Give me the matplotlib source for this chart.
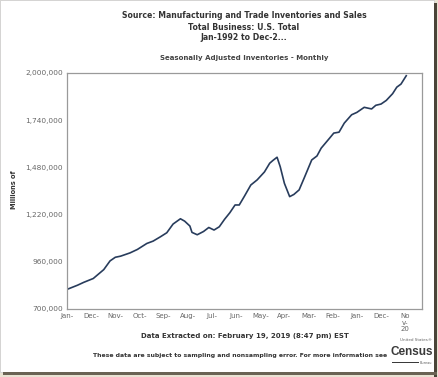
"""
Census chart: seasonally adjusted total business inventories, monthly.
"""
import matplotlib
matplotlib.use('Agg')
import matplotlib.pyplot as plt
from matplotlib.patches import Rectangle


# values (millions of dollars)
months = [
    '1992-01', '1992-11', '1993-05', '1994-02', '1994-12', '1995-06', '1995-11',
    '1996-04', '1997-01', '1997-08', '1998-05', '1998-11', '1999-06', '1999-12',
    '2000-06', '2001-01', '2001-05', '2001-10', '2001-12', '2002-05', '2002-11',
    '2003-04', '2003-09', '2004-02', '2004-07', '2004-12', '2005-05', '2005-09',
    '2006-02', '2006-08', '2007-02', '2007-09', '2008-02', '2008-05', '2008-09',
    '2008-12', '2009-04', '2009-09', '2010-01', '2010-06', '2010-11', '2011-06',
    '2011-11', '2012-03', '2012-11', '2013-03', '2013-08', '2014-01', '2014-08',
    '2015-01', '2015-08', '2016-03', '2016-07', '2016-12', '2017-05', '2017-11',
    '2018-03', '2018-07', '2018-12',
]
inventories = [
    808, 831, 847, 868, 917, 965, 985,
    991, 1009, 1028, 1061, 1074, 1098, 1120,
    1168, 1197, 1184, 1157, 1122, 1109, 1127,
    1149, 1135, 1153, 1194, 1230, 1273, 1273,
    1322, 1383, 1411, 1455, 1503, 1518, 1536,
    1484, 1392, 1319, 1331, 1356, 1424, 1521,
    1543, 1586, 1641, 1669, 1674, 1724, 1770,
    1783, 1811, 1802, 1822, 1829, 1849, 1886,
    1922, 1939, 1985,
]
inventories = [v * 1000 for v in inventories]

x_labels = ['Jan-', 'Dec-', 'Nov-', 'Oct-', 'Sep-', 'Aug-', 'Jul-', 'Jun-',
            'May-', 'Apr-', 'Mar-', 'Feb-', 'Jan-', 'Dec-', 'No\nv-\n20']
y_ticks = [700000, 960000, 1220000, 1480000, 1740000, 2000000]


def month_index(m):
    year, mon = m.split('-')
    return (int(year) - 1992) * 12 + int(mon) - 1


def plot_inventories():
    text_color = '#333333'
    tick_color = '#666666'
    W, H = 439, 377

    fig = plt.figure(figsize=(4.39, 3.77), dpi=100)
    fig.patch.set_facecolor('#e9e3d3')
    # white page of the screenshot
    fig.add_artist(Rectangle((0, 5 / H), 434 / W, 1 - 5 / H, transform=fig.transFigure,
                             facecolor='white', edgecolor='#cfcfcf', linewidth=0.6,
                             zorder=-10))
    # dark shadow on the right and at the bottom
    fig.add_artist(Rectangle((434 / W, 0), 3 / W, 1 - 3 / H, transform=fig.transFigure,
                             facecolor='#4a4438', edgecolor='none', zorder=-10))
    fig.add_artist(Rectangle((3 / W, 2 / H), 434 / W, 3 / H, transform=fig.transFigure,
                             facecolor='#6a6354', edgecolor='none', zorder=-10))

    ax = fig.add_axes([67 / W, 1 - 309 / H, 355 / W, 236 / H])

    x = [month_index(m) for m in months]
    ax.plot(x, inventories, color='#283c5c', linewidth=1.2)

    ax.set_xlim(0, 338)
    ax.set_ylim(700000, 2000000)
    ax.set_xticks([i * 23 for i in range(len(x_labels))])
    ax.set_xticklabels(x_labels, fontsize=5, color=tick_color, va='top',
                       linespacing=1.1)
    ax.set_yticks(y_ticks)
    ax.set_yticklabels([f'{v:,}' for v in y_ticks], fontsize=5.3, color=tick_color)
    ax.tick_params(length=0, pad=3)
    for spine in ax.spines.values():
        spine.set_color('#9a9a9a')
        spine.set_linewidth(0.9)

    # titles
    title_kw = dict(ha='center', va='center', fontsize=5.6, fontweight='bold',
                    color=text_color)
    fig.text(244 / W, 1 - 16 / H, 'Source: Manufacturing and Trade Inventories and Sales', **title_kw)
    fig.text(244 / W, 1 - 27 / H, 'Total Business: U.S. Total', **title_kw)
    fig.text(244 / W, 1 - 38 / H, 'Jan-1992 to Dec-2...', **title_kw)
    fig.text(244 / W, 1 - 58 / H, 'Seasonally Adjusted Inventories - Monthly',
             ha='center', va='center', fontsize=5, fontweight='bold', color='#444444')

    fig.text(14 / W, 1 - 190 / H, 'Millions of', rotation=90, ha='center',
             va='center', fontsize=4.8, fontweight='bold', color=text_color)

    fig.text(245 / W, 1 - 336 / H, 'Data Extracted on: February 19, 2019 (8:47 pm) EST',
             ha='center', va='center', fontsize=5, fontweight='bold', color=text_color)
    fig.text(240 / W, 1 - 356 / H,
             'These data are subject to sampling and nonsampling error. For more information see',
             ha='center', va='center', fontsize=4.45, fontweight='bold', color=text_color)

    # census logo
    fig.text(432 / W, 1 - 340 / H, 'United States\u00ae', ha='right', va='center',
             fontsize=3, color='#666666')
    fig.text(433 / W, 1 - 352 / H, 'Census', ha='right', va='center',
             fontsize=8.5, color='#3a3a3a', fontweight='bold',
             family='Liberation Sans')
    fig.add_artist(Rectangle((392 / W, 1 - 363 / H), 27 / W, 1.2 / H,
                             transform=fig.transFigure, facecolor='#3a3a3a',
                             edgecolor='none'))
    fig.text(432 / W, 1 - 362.5 / H, 'Bureau', ha='right', va='center',
             fontsize=2.5, color='#666666')

    fig.savefig('out.png', dpi=100, facecolor=fig.get_facecolor())


if __name__ == '__main__':
    plot_inventories()
